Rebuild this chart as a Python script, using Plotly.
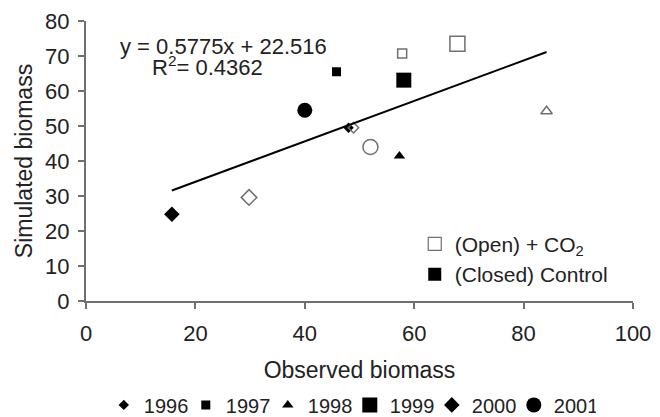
import plotly.graph_objects as go

# ---- data ----
years = ["1996", "1997", "1998", "1999", "2000", "2001"]
symbols = ["diamond", "square", "triangle-up", "square", "diamond", "circle"]
sizes = [8, 9, 10, 15, 12, 15]
closed_obs = [48.0, 45.8, 57.3, 58.1, 15.7, 40.0]
closed_sim = [49.5, 65.5, 41.4, 63.1, 24.8, 54.5]
open_obs = [48.9, 57.8, 84.2, 67.9, 29.8, 52.0]
open_sim = [49.5, 70.7, 54.2, 73.5, 29.6, 44.0]
slope = 0.5775
intercept = 22.516
r2 = 0.4362

FONT = "Liberation Sans, Arial, sans-serif"
TXT = "#222222"
GRAY = "#707070"

fig = go.Figure()

for i, yr in enumerate(years):
    fig.add_trace(go.Scatter(
        x=[closed_obs[i]], y=[closed_sim[i]], mode="markers", name=yr,
        legend="legend",
        marker=dict(symbol=symbols[i], size=sizes[i], color="black",
                    line=dict(width=0)),
    ))
for i, yr in enumerate(years):
    fig.add_trace(go.Scatter(
        x=[open_obs[i]], y=[open_sim[i]], mode="markers", name=yr + " open",
        showlegend=False,
        marker=dict(symbol=symbols[i] + "-open", size=sizes[i], color=GRAY,
                    line=dict(width=1.5, color=GRAY)),
    ))

all_obs = closed_obs + open_obs
xl = [min(all_obs), max(all_obs)]
fig.add_trace(go.Scatter(
    x=xl, y=[slope * v + intercept for v in xl], mode="lines",
    line=dict(color="black", width=2), showlegend=False,
))

# treatment legend (legend2)
fig.add_trace(go.Scatter(
    x=[None], y=[None], mode="markers", name="(Open) + CO<sub>2</sub>",
    legend="legend2",
    marker=dict(symbol="square-open", size=13, color=GRAY, line=dict(width=1.2, color=GRAY)),
))
fig.add_trace(go.Scatter(
    x=[None], y=[None], mode="markers", name="(Closed) Control",
    legend="legend2",
    marker=dict(symbol="square", size=13, color="black"),
))

fig.add_annotation(x=25.1, y=72.6, xref="x", yref="y", showarrow=False,
                   text=f"y = {slope}x + {intercept}",
                   font=dict(family=FONT, size=22, color=TXT))
fig.add_annotation(x=22.3, y=67.2, xref="x", yref="y", showarrow=False,
                   text=f"R<sup>2</sup>= {r2}",
                   font=dict(family=FONT, size=22, color=TXT))

axis_common = dict(
    showgrid=False, zeroline=False, showline=True, linecolor=GRAY, linewidth=2,
    ticks="outside", ticklen=6, tickwidth=2, tickcolor=GRAY, automargin=False,
    tickfont=dict(family=FONT, size=22, color=TXT),
)

fig.update_layout(
    width=660, height=417,
    margin=dict(l=86, r=27, t=21, b=116),
    paper_bgcolor="white", plot_bgcolor="white",
    font=dict(family=FONT, size=20, color=TXT),
    xaxis=dict(range=[0, 100], dtick=20, ticklabelstandoff=6, **axis_common,
               title=dict(text="Observed biomass", standoff=16,
                          font=dict(family=FONT, size=23, color=TXT))),
    yaxis=dict(range=[0, 80], dtick=10, ticklabelstandoff=4, **axis_common,
               title=dict(text="Simulated biomass", standoff=6,
                          font=dict(family=FONT, size=23, color=TXT))),
    legend=dict(orientation="h", x=0.53, xanchor="center", xref="container",
                y=0.029, yanchor="middle", yref="container",
                font=dict(family=FONT, size=20, color=TXT), itemwidth=30,
                bgcolor="rgba(0,0,0,0)", tracegroupgap=0,
                entrywidth=37, entrywidthmode="pixels"),
    legend2=dict(x=0.601, xanchor="left", y=0.276, yanchor="top",
                 font=dict(family=FONT, size=21, color=TXT), itemwidth=30,
                 bgcolor="rgba(0,0,0,0)", tracegroupgap=0),
)

fig.write_html("out.html")
